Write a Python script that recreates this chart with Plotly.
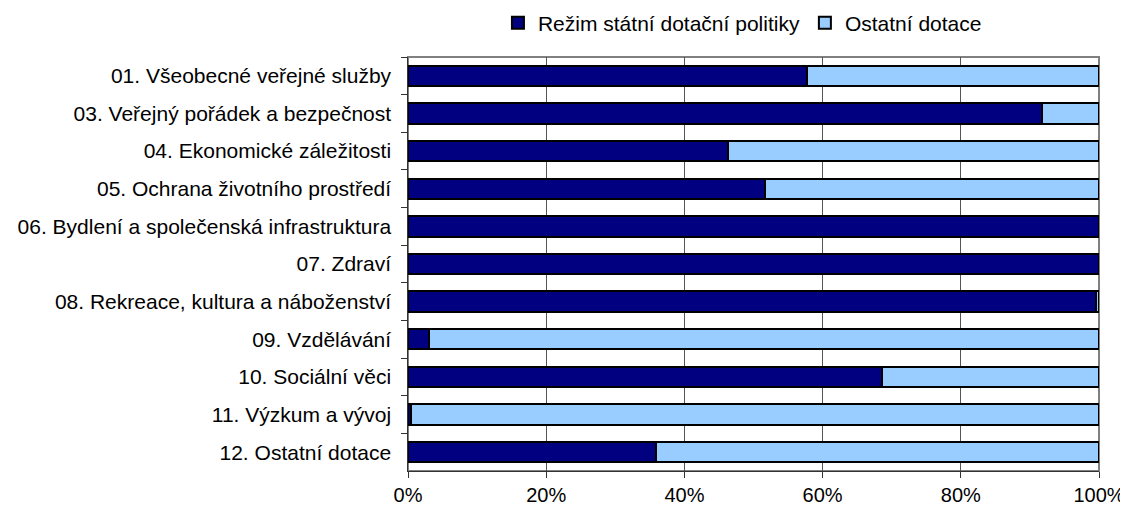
import plotly.graph_objects as go

categories = [
    "01. Všeobecné veřejné služby",
    "03. Veřejný pořádek a bezpečnost",
    "04. Ekonomické záležitosti",
    "05. Ochrana životního prostředí",
    "06. Bydlení a společenská infrastruktura",
    "07. Zdraví",
    "08. Rekreace, kultura a náboženství",
    "09. Vzdělávání",
    "10. Sociální věci",
    "11. Výzkum a vývoj",
    "12. Ostatní dotace",
]
rezim = [57.7, 91.8, 46.3, 51.7, 100.0, 100.0, 99.6, 3.1, 68.6, 0.5, 35.9]
ostatni = [100 - v for v in rezim]

tick_vals = [0, 20, 40, 60, 80, 100]
tick_text = ["0%", "20%", "40%", "60%", "80%", "100%"]

fig = go.Figure()
fig.add_trace(go.Bar(
    y=categories, x=rezim, orientation="h", name="Režim státní dotační politiky",
    marker=dict(color="#000080", line=dict(color="black", width=2)),
))
fig.add_trace(go.Bar(
    y=categories, x=ostatni, orientation="h", name="Ostatní dotace",
    marker=dict(color="#99CCFF", line=dict(color="black", width=2)),
))

# plot-area frame (grey top/right edges)
fig.add_shape(type="rect", xref="paper", yref="paper", x0=0, y0=0, x1=1, y1=1,
              line=dict(color="#808080", width=2), layer="below")

# the page body adds an 8px offset, margins account for it
fig.update_layout(
    barmode="stack", bargap=0.46,
    width=1128, height=512,
    margin=dict(l=400, r=37, t=49, b=49, autoexpand=False),
    paper_bgcolor="white", plot_bgcolor="white",
    font=dict(family="Liberation Sans, Arial, sans-serif", size=21, color="black"),
    showlegend=True,
    legend=dict(orientation="h", x=0.484, xanchor="center", y=1.082, yanchor="middle",
                traceorder="normal", font=dict(size=21), itemwidth=30,
                bgcolor="rgba(0,0,0,0)"),
    xaxis=dict(range=[0, 100], tickvals=tick_vals, ticktext=tick_text,
               tickfont=dict(size=20),
               showgrid=True, gridcolor="#555555", gridwidth=1,
               showline=True, linecolor="#333333", linewidth=1,
               ticks="outside", ticklen=6, tickcolor="#333333", zeroline=False),
    yaxis=dict(autorange="reversed", showline=True, linecolor="#333333", linewidth=1,
               ticks="outside", ticklen=6, tickcolor="#333333", tickson="boundaries",
               ticksuffix="  "),
)

fig.write_html("out.html")
